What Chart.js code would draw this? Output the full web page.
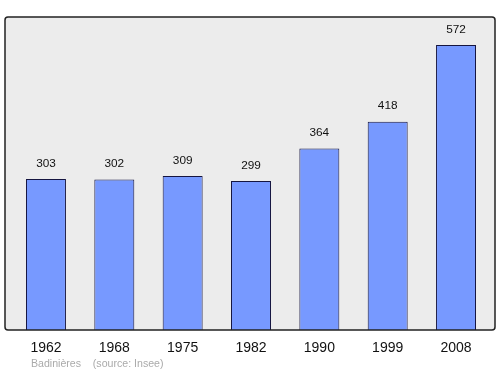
<!DOCTYPE html>
<html><head><meta charset="utf-8">
<script src="https://cdn.jsdelivr.net/npm/chart.js@4/dist/chart.umd.min.js"></script>
<style>html,body{margin:0;padding:0;background:#fff}#w{width:500px;height:374px}</style>
</head><body><div id="w"><canvas id="c" width="500" height="374"></canvas></div>
<script>
const years = ["1962","1968","1975","1982","1990","1999","2008"];
const population = [303,302,309,299,364,418,572];
const footerText = "Badinières    (source: Insee)";

const frame = {
  id:'frame',
  beforeDraw(chart){
    const {ctx, chartArea:a} = chart;
    const x0=a.left-6.8, x1=a.right+4.8, y0=a.top, y1=a.bottom;
    ctx.save();
    ctx.beginPath();
    ctx.roundRect(x0,y0,x1-x0,y1-y0,3);
    ctx.fillStyle='#ececec';
    ctx.fill();
    ctx.restore();
  },
  afterDraw(chart){
    const {ctx, chartArea:a} = chart;
    const x0=a.left-6.8, x1=a.right+4.8, y0=a.top, y1=a.bottom;
    ctx.save();
    ctx.beginPath();
    ctx.roundRect(x0,y0,x1-x0,y1-y0,3);
    ctx.lineWidth=1.5; ctx.strokeStyle='#222';
    ctx.stroke();
    ctx.fillStyle='#aaaaaa';
    ctx.font='10.6px "Liberation Sans", Arial, sans-serif';
    ctx.textBaseline='middle'; ctx.textAlign='left';
    ctx.fillText(footerText, 31, 364.5);
    ctx.restore();
  }
};
const labels = {
  id:'vlabels',
  afterDatasetsDraw(chart){
    const {ctx}=chart; const meta=chart.getDatasetMeta(0);
    ctx.save();
    ctx.fillStyle='#111'; ctx.font='11.8px "Liberation Sans", Arial, sans-serif';
    ctx.textAlign='center'; ctx.textBaseline='middle';
    meta.data.forEach((b,i)=>{ ctx.fillText(String(population[i]), b.x, b.y-15.5); });
    ctx.restore();
  }
};
new Chart(document.getElementById('c'),{
  type:'bar',
  data:{labels:years,datasets:[{data:population,backgroundColor:'#7799ff',borderColor:'#151540',borderWidth:1,barPercentage:0.585,categoryPercentage:1}]},
  options:{
    responsive:false, animation:false, devicePixelRatio:1,
    layout:{padding:{left:11.8,right:9.8,top:17,bottom:0}},
    plugins:{legend:{display:false},tooltip:{enabled:false}},
    scales:{
      x:{grid:{display:false,drawTicks:false},border:{display:false},
         ticks:{color:'#111',font:{size:14,family:'"Liberation Sans", Arial, sans-serif'},padding:10},
         afterFit(s){s.height=44;}},
      y:{display:false,min:0,max:628}
    }
  },
  plugins:[frame,labels]
});
</script></body></html>
